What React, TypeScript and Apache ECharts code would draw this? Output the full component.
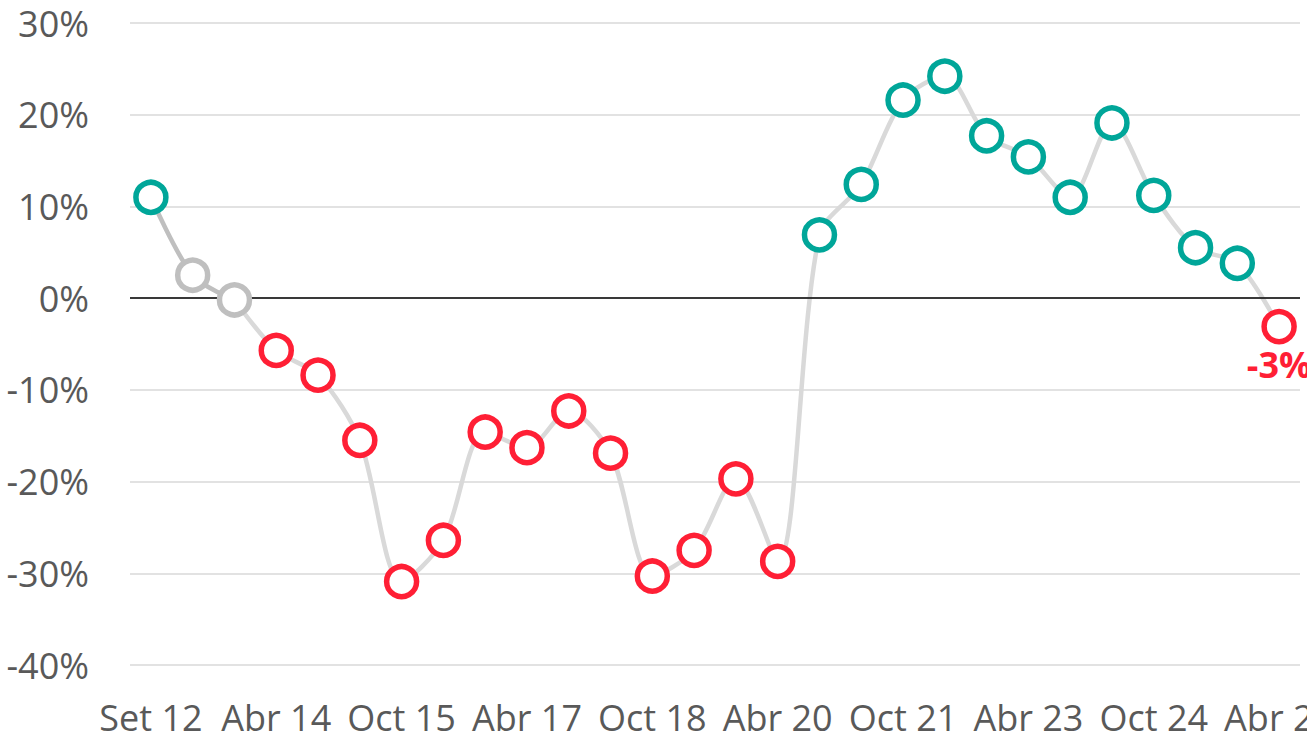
import React, { useEffect, useRef } from "react";
import * as echarts from "echarts";

const categories = [
  "Set 12", "Abr 13", "Oct 13", "Abr 14", "Oct 14", "Abr 15", "Oct 15",
  "Abr 16", "Oct 16", "Abr 17", "Oct 17", "Abr 18", "Oct 18", "Abr 19",
  "Oct 19", "Abr 20", "Oct 20", "Abr 21", "Oct 21", "Abr 22", "Oct 22",
  "Abr 23", "Oct 23", "Abr 24", "Oct 24", "Abr 25", "Oct 25", "Abr 26",
];

const values = [
  11.0, 2.5, -0.2, -5.7, -8.4, -15.5, -30.9, -26.4, -14.6, -16.3, -12.3,
  -16.9, -30.3, -27.5, -19.7, -28.7, 6.9, 12.4, 21.6, 24.2, 17.7, 15.4,
  11.0, 19.1, 11.2, 5.5, 3.8, -3.1,
];

// marker colour group: "pos" teal, "neg" red, "neutral" gray
const groups = [
  "pos", "neutral", "neutral", "neg", "neg", "neg", "neg", "neg", "neg", "neg",
  "neg", "neg", "neg", "neg", "neg", "neg", "pos", "pos", "pos", "pos", "pos",
  "pos", "pos", "pos", "pos", "pos", "pos", "neg",
];

const yTicks = { min: -40, max: 30, interval: 10 };
const lastLabel = "-3%";

const TEAL = "#00A699";
const RED = "#FF1F35";
const GRAY = "#BFBFBF";
const LIGHT = "#D9D9D9";
const TEXT = "#595959";
const FONT = "Open Sans";

export default function App() {
  const ref = useRef<HTMLDivElement>(null);

  useEffect(() => {
    if (!ref.current) return;
    const chart = echarts.init(ref.current, null, { renderer: "svg" });

    const colorOf = (g: string) => (g === "pos" ? TEAL : g === "neg" ? RED : GRAY);
    const darkPart = values.map((v, i) => (i <= 2 ? v : null));
    const lightPart = values.map((v, i) => (i >= 2 ? v : null));

    const scatterData = values.map((v, i) => {
      const item: any = {
        value: v,
        itemStyle: {
          color: "#FFFFFF",
          borderColor: colorOf(groups[i]),
          borderWidth: 5.5,
          opacity: 1,
        },
      };
      if (i === values.length - 1) {
        item.label = {
          show: true,
          position: "bottom",
          distance: 2,
          formatter: lastLabel,
          color: RED,
          fontWeight: "bold",
          fontSize: 36,
          fontFamily: FONT,
        };
      }
      return item;
    });

    chart.setOption({
      animation: false,
      grid: {
        left: 130,
        right: 7,
        top: 23,
        bottom: 70,
        containLabel: false,
        outerBoundsMode: "none",
      },
      xAxis: {
        type: "category",
        data: categories,
        boundaryGap: true,
        axisLine: { show: false, onZero: false },
        axisTick: { show: false },
        splitLine: { show: false },
        axisLabel: {
          interval: 2,
          color: TEXT,
          fontSize: 36,
          lineHeight: 36,
          fontFamily: FONT,
          margin: 34,
          showMaxLabel: true,
          hideOverlap: false,
        },
      },
      yAxis: {
        type: "value",
        min: yTicks.min,
        max: yTicks.max,
        interval: yTicks.interval,
        axisLine: { show: false },
        axisTick: { show: false },
        splitLine: { lineStyle: { color: LIGHT, width: 1.5 } },
        axisLabel: {
          formatter: (v: number) => `${v}%`,
          color: TEXT,
          fontSize: 36,
          fontFamily: FONT,
          margin: 41,
        },
      },
      series: [
        {
          type: "line",
          data: lightPart,
          smooth: 0.3,
          showSymbol: false,
          symbol: "none",
          lineStyle: { color: LIGHT, width: 4.5 },
          z: 2,
          markLine: {
            silent: true,
            symbol: "none",
            label: { show: false },
            lineStyle: { color: "#000000", width: 1.5, type: "solid" },
            data: [{ yAxis: 0 }],
          },
        },
        {
          type: "line",
          data: darkPart,
          smooth: 0.3,
          showSymbol: false,
          symbol: "none",
          lineStyle: { color: GRAY, width: 4.5 },
          z: 3,
        },
        {
          type: "scatter",
          data: scatterData,
          symbol: "circle",
          symbolSize: 30,
          itemStyle: { opacity: 1 },
          z: 5,
        },
      ],
    });

    return () => chart.dispose();
  }, []);

  return (
    <div
      ref={ref}
      style={{ position: "absolute", left: 0, top: 0, width: 1307, height: 735, overflow: "hidden" }}
    />
  );
}
